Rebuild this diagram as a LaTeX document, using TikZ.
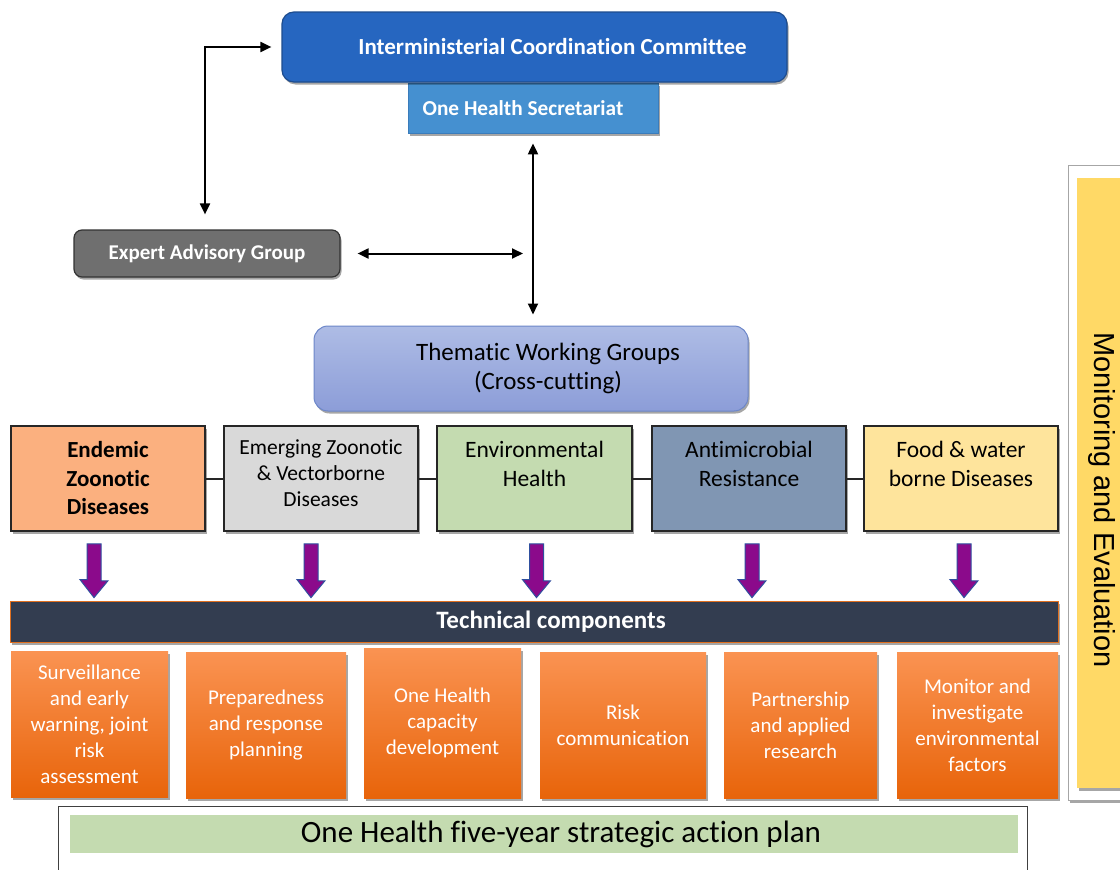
\documentclass[tikz,border=0pt]{standalone}
\usepackage{fontspec}
\setmainfont{Carlito}[Ligatures=NoCommon]
\newfontfamily\arialfont{Liberation Sans}
\usetikzlibrary{arrows.meta,shadows,calc}
\definecolor{iccblue}{HTML}{2666C0}
\definecolor{iccborder}{HTML}{1D4C8E}
\definecolor{secblue}{HTML}{4590D0}
\definecolor{secborder}{HTML}{3A7CBB}
\definecolor{expgray}{HTML}{6F6F6F}
\definecolor{twtop}{HTML}{AEBCE5}
\definecolor{twbot}{HTML}{8C9DD8}
\definecolor{twborder}{HTML}{6D87C9}
\definecolor{cEndemic}{HTML}{FBB07F}
\definecolor{cEmerging}{HTML}{D9D9D9}
\definecolor{cEnv}{HTML}{C4DBB0}
\definecolor{cAmr}{HTML}{8096B3}
\definecolor{cFood}{HTML}{FEE49C}
\definecolor{arrpurple}{HTML}{8B0A8B}
\definecolor{arrblue}{HTML}{2F4F9F}
\definecolor{techbg}{HTML}{333D50}
\definecolor{techedge}{HTML}{E07020}
\definecolor{orgtop}{HTML}{FA9352}
\definecolor{orgbot}{HTML}{E8640A}
\definecolor{planedge}{HTML}{404040}
\definecolor{monyellow}{HTML}{FFD966}
\definecolor{monedge}{HTML}{A6A6A6}
\begin{document}
\begin{tikzpicture}[x=1pt,y=-1pt,
  shad/.style={drop shadow={opacity=0.35,shadow xshift=1.5pt,shadow yshift=-2.5pt,fill=black}},
  iccbox/.style={shad,draw=iccborder,line width=1.2pt,fill=iccblue,rounded corners=12pt,
     text=white,font=\bfseries\fontsize{23}{27}\selectfont,minimum width=505pt,minimum height=70pt},
  secbox/.style={shad,draw=secborder,line width=0.8pt,fill=secblue,
     text=white,font=\bfseries\fontsize{21.3}{25}\selectfont,minimum width=250pt,minimum height=50pt},
  expbox/.style={shad,draw=black!80,line width=1.2pt,fill=expgray,rounded corners=8pt,
     text=white,font=\bfseries\fontsize{21}{25}\selectfont,minimum width=266pt,minimum height=47pt},
  twbox/.style={shad,draw=twborder,line width=1pt,top color=twtop,bottom color=twbot,rounded corners=14pt,
     text=black,font=\fontsize{25}{29}\selectfont,align=center,minimum width=434pt,minimum height=85pt},
  themebox/.style={shad,draw=black!85,line width=1.5pt,align=center,text=black,
     minimum width=194pt,minimum height=105pt,inner sep=0pt,font=\fontsize{23.5}{29}\selectfont},
  techbar/.style={shad,draw=techedge,line width=0.8pt,fill=techbg,text=white,
     font=\bfseries\fontsize{25}{29}\selectfont,minimum width=1048pt,minimum height=41pt},
  compbox/.style={shad,top color=orgtop,bottom color=orgbot,draw=none,text=white,align=center,
     font=\fontsize{21}{26}\selectfont,minimum height=146pt,inner sep=0pt},
  dbl/.style={line width=2pt,{Triangle[length=11pt,width=10pt]}-{Triangle[length=11pt,width=10pt]}},
  link/.style={line width=2pt,draw=black!85},
  blockarrow/.style={fill=arrpurple,draw=arrblue,line width=1pt,line join=miter}
]
\clip (0,0) rectangle (1120,870);
\fill[white] (0,0) rectangle (1120,870);

% top governance
\node[secbox] (sec) at (533,108) {One Health Secretariat\hspace*{20pt}};
\node[iccbox] (icc) at (534.5,47) {\hspace*{36pt}Interministerial Coordination Committee};
\node[expbox] (exp) at (207,253.5) {Expert Advisory Group};
\node[twbox] (tw) at (531,368.5) {\hspace*{34pt}Thematic Working Groups\\\hspace*{34pt}(Cross-cutting)};

% connectors among governance bodies
\draw[dbl] ($(exp.north)+(-2,-15)$) |- ($(icc.west)+(-10,0)$);
\draw[dbl] ($(sec.south)+(0,10)$) -- ($(sec.south |- tw.north)+(0,-11)$);
\coordinate (mid) at ($(sec.south |- exp.east)+(-10,0)$);
\draw[dbl] ($(exp.east)+(17,0)$) -- (mid);

% thematic areas
\node[themebox,fill=cEndemic,font=\bfseries\fontsize{23}{28.5}\selectfont] (b1) at (108,478.5) {Endemic\\Zoonotic\\Diseases};
\node[themebox,fill=cEmerging,font=\fontsize{21.5}{26}\selectfont] (b2) at (321,478.5) {Emerging Zoonotic\\\& Vectorborne\\Diseases\\[-15pt]\mbox{}};
\node[themebox,fill=cEnv,minimum width=195pt] (b3) at (534.5,478.5) {Environmental\\Health\\\mbox{}};
\node[themebox,fill=cAmr] (b4) at (749,478.5) {Antimicrobial\\Resistance\\\mbox{}};
\node[themebox,fill=cFood] (b5) at (961,478.5) {Food \& water\\borne Diseases\\\mbox{}};
\draw[link] (b1.east) -- (b2.west);
\draw[link] (b2.east) -- (b3.west);
\draw[link] (b3.east) -- (b4.west);
\draw[link] (b4.east) -- (b5.west);

% technical components
\node[techbar] (tech) at (534,621.5) {\hspace*{34pt}Technical components};

% block arrows from thematic areas to technical components
\foreach \n/\dx in {b1/-14,b2/-10,b3/2,b4/3,b5/3}{
  \draw[blockarrow] ($(\n.south)+(\dx-7,12)$) -- ++(14,0) -- ++(0,37) -- ++(7,0)
     -- ($(\n.south |- tech.north)+(\dx,-3)$) -- ++(-14,-18) -- ++(7,0) -- cycle;
}

% technical component boxes
\node[compbox,minimum width=157pt] (o1) at (89.5,724.5) {Surveillance\\and early\\warning, joint\\risk\\assessment};
\node[compbox,minimum width=160pt] (o2) at (266,725) {Preparedness\\and response\\planning};
\node[compbox,minimum width=157pt,minimum height=150pt] (o3) at (442.5,723) {One Health\\capacity\\development};
\node[compbox,minimum width=166pt] (o4) at (623,725) {Risk\\communication};
\node[compbox,minimum width=153pt] (o5) at (800.5,725) {Partnership\\and applied\\research};
\node[compbox,minimum width=161pt] (o6) at (977.5,725) {Monitor and\\investigate\\environmental\\factors};

% strategic plan
\draw[draw=planedge,line width=1pt,fill=white] (58,806) rectangle (1027,890);
\node[fill=cEnv,minimum width=948pt,minimum height=38pt,font=\fontsize{31}{34}\selectfont] (plan) at (544,834) {\hspace*{34pt}One Health five-year strategic action plan};

% monitoring and evaluation
\draw[shad,draw=monedge,line width=1pt,fill=white] (1068,165) rectangle (1135,800);
\node[shad,fill=monyellow,rotate=-90,minimum width=610pt,minimum height=50pt,
   font=\arialfont\fontsize{29}{32}\selectfont] (mon) at (1102,483) {\hspace*{34pt}Monitoring and Evaluation};
\end{tikzpicture}
\end{document}
